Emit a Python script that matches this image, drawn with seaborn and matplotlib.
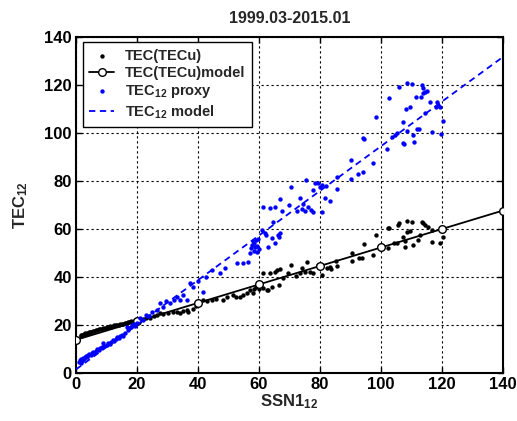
import numpy as np
import pandas as pd
import matplotlib
matplotlib.use("Agg")
import matplotlib.pyplot as plt
import seaborn as sns

# ---- data ----
tec_ssn = [1.5, 1.8, 2.0, 2.2, 2.5, 2.8, 3.0, 3.3, 3.6, 4.0, 4.3, 4.7, 5.0, 5.5, 6.0, 6.5, 7.0, 7.5,
           8.0, 8.5, 9.0, 9.5, 10.0, 10.5, 11.0, 11.5, 12.0, 12.5, 13.0, 13.5, 14.0, 14.5, 15.0, 15.5,
           16.0, 16.5, 17.0, 17.5, 18.0, 19.0, 20.0, 21.0, 22.0, 23.0, 24.3, 25.5, 26.5, 27.5, 28.5,
           30.0, 31.8, 33.0, 34.0, 35.0, 36.4, 36.7, 38.4, 39.5, 41.6, 43.0, 44.5, 46.0, 48.2, 49.5,
           51.5, 52.5, 53.8, 54.8, 56.0, 57.0, 58.0, 58.5, 59.0, 59.3, 60.0, 61.3, 61.3, 62.6, 63.0,
           63.6, 64.3, 65.2, 65.9, 66.5, 66.9, 67.9, 69.5, 70.5, 72.0, 73.4, 74.0, 75.0, 75.7, 76.7,
           77.7, 79.3, 80.6, 82.3, 83.3, 83.6, 85.2, 85.6, 90.5, 90.5, 92.8, 93.8, 94.4, 97.4, 98.4,
           100.3, 102.3, 102.3, 102.6, 104.3, 105.2, 105.6, 105.9, 107.2, 107.9, 107.9, 108.5, 108.5,
           109.5, 110.2, 110.5, 112.1, 112.8, 113.4, 113.8, 114.4, 115.4, 116.7, 116.7, 119.3, 120.3]
tec_val = [15.6, 15.8, 16.0, 15.9, 16.2, 16.3, 16.5, 16.4, 16.7, 16.8, 17.0, 17.1, 17.2, 17.5, 17.6,
           17.9, 18.0, 18.2, 18.4, 18.5, 18.7, 18.8, 19.0, 19.1, 19.4, 19.3, 19.6, 19.8, 19.9, 20.2,
           20.1, 20.4, 20.6, 20.5, 20.9, 21.0, 21.3, 21.1, 21.5, 21.8, 22.0, 22.2, 22.5, 22.8, 22.9,
           23.6, 24.3, 25.0, 24.6, 25.2, 25.4, 25.6, 25.1, 26.0, 26.3, 25.4, 26.8, 28.0, 30.4, 30.1,
           30.4, 30.9, 30.4, 31.7, 32.5, 31.5, 31.7, 32.5, 33.3, 34.6, 33.3, 35.2, 35.8, 36.7, 35.0,
           35.4, 41.7, 34.6, 34.6, 41.7, 35.8, 42.0, 42.9, 36.7, 43.3, 39.6, 41.7, 45.0, 40.5, 41.5,
           43.75, 42.0, 46.25, 42.0, 41.7, 45.0, 40.8, 43.75, 44.2, 43.3, 46.7, 44.6, 50.0, 46.7, 47.9,
           47.9, 53.75, 49.2, 57.5, 52.5, 52.0, 60.4, 60.4, 54.2, 54.2, 61.7, 62.5, 56.7, 55.0, 52.5,
           63.3, 58.75, 59.2, 62.9, 53.3, 55.4, 57.5, 62.9, 62.5, 61.7, 60.8, 59.6, 54.6, 54.2, 56.7]

proxy_ssn = [1.0, 1.3, 1.5, 1.8, 2.0, 2.3, 2.6, 3.0, 3.3, 3.6, 4.0, 4.4, 4.8, 5.2, 5.6, 6.0, 6.5, 7.0,
             7.5, 8.0, 8.5, 8.9, 9.3, 10.0, 10.5, 11.0, 11.5, 12.0, 12.5, 13.0, 13.5, 14.0, 14.5, 15.0,
             15.5, 16.0, 16.7, 17.0, 17.5, 18.0, 18.5, 19.0, 19.5, 20.0, 21.0, 22.0, 23.0, 24.0, 25.0,
             26.6, 27.5, 28.5, 29.5, 30.8, 32.0, 33.0, 34.0, 35.0, 36.4, 37.4, 38.5, 40.0, 41.6, 42.5,
             44.6, 47.2, 48.9, 52.8, 54.8, 56.4, 57.0, 57.5, 57.8, 58.0, 58.3, 58.5, 58.8, 59.0, 59.2,
             59.5, 59.8, 60.0, 61.0, 61.3, 62.0, 62.3, 63.0, 63.6, 64.3, 64.6, 65.2, 65.2, 66.2, 66.5,
             66.9, 66.9, 67.5, 69.8, 70.5, 72.5, 73.4, 74.0, 74.5, 75.0, 75.4, 76.0, 77.0, 77.7, 77.7,
             78.4, 79.3, 80.0, 80.6, 80.6, 81.6, 82.0, 83.3, 85.6, 85.6, 90.2, 90.2, 92.5, 94.1, 94.1,
             94.4, 97.4, 98.4, 102.0, 102.6, 103.6, 104.6, 105.2, 105.9, 107.2, 107.2, 107.5, 108.2,
             108.5, 108.5, 109.5, 110.2, 110.5, 110.8, 111.5, 111.8, 112.5, 113.0, 113.4, 113.8, 113.8,
             114.4, 114.4, 115.0, 116.0, 116.7, 118.0, 118.4, 118.7, 119.3, 119.7, 120.3]
proxy_val = [4.5, 5.5, 4.2, 6.0, 5.2, 6.3, 5.8, 6.8, 7.2, 6.6, 7.6, 8.0, 7.4, 8.4, 8.9, 8.3, 9.2, 9.8,
             9.4, 10.5, 11.0, 12.5, 11.2, 11.8, 12.6, 12.2, 13.0, 13.6, 13.2, 14.2, 14.8, 14.4, 15.5,
             16.0, 15.6, 16.8, 19.2, 17.8, 18.6, 19.0, 19.8, 20.3, 19.6, 21.0, 22.9, 22.2, 24.0, 23.8,
             25.5, 26.25, 29.0, 27.5, 29.8, 29.2, 30.5, 31.7, 30.4, 32.5, 30.4, 37.5, 36.0, 38.5, 33.75,
             40.0, 42.9, 41.7, 43.75, 45.8, 45.8, 46.25, 50.0, 52.0, 53.5, 55.0, 51.0, 54.0, 52.5, 55.4,
             50.5, 53.0, 56.0, 51.5, 59.6, 69.2, 58.3, 57.5, 52.5, 68.7, 56.25, 62.9, 54.2, 69.2, 57.5,
             56.7, 58.3, 72.5, 67.5, 70.0, 77.5, 67.5, 72.9, 68.5, 70.5, 67.5, 80.4, 69.0, 68.0, 67.0,
             76.25, 79.2, 79.2, 77.5, 78.3, 67.0, 72.9, 77.8, 71.7, 76.7, 81.7, 80.8, 88.75, 82.9, 83.75,
             97.9, 97.5, 87.5, 106.7, 93.3, 114.6, 98.3, 99.2, 100.0, 119.2, 95.8, 104.6, 95.4, 110.0,
             120.8, 100.8, 110.8, 120.4, 99.2, 96.25, 115.0, 101.7, 101.7, 115.0, 120.0, 118.75, 116.7,
             117.0, 108.3, 117.5, 112.9, 100.4, 110.8, 112.9, 111.7, 110.8, 99.6, 105.0]

model_ssn = [0, 20, 40, 60, 80, 100, 120, 140]
tec_model = [13.8, 21.5, 29.2, 36.9, 44.6, 52.3, 60.0, 67.7]
proxy_model = [1.5, 20.1, 38.7, 57.3, 75.9, 94.5, 113.1, 131.7]

ticks = [0, 20, 40, 60, 80, 100, 120, 140]

# ---- style ----
sns.set_theme(style="white")
plt.rcParams['font.family'] = ['Liberation Sans', 'DejaVu Sans']
plt.rcParams['font.weight'] = 'bold'
plt.rcParams['mathtext.fontset'] = 'custom'
plt.rcParams['mathtext.rm'] = 'Liberation Sans:bold'
plt.rcParams['mathtext.it'] = 'Liberation Sans:bold'
plt.rcParams['mathtext.bf'] = 'Liberation Sans:bold'
plt.rcParams['mathtext.default'] = 'bf'

fig = plt.figure(figsize=(5.17, 4.21), dpi=100)
fig.patch.set_facecolor('white')
ax = fig.add_axes([76/517, 1 - 373/421, (503-76)/517, (373-37)/421])
ax.set_facecolor('white')

df_tec = pd.DataFrame({'ssn': tec_ssn, 'tec': tec_val})
df_proxy = pd.DataFrame({'ssn': proxy_ssn, 'tec': proxy_val})
df_model = pd.DataFrame({'ssn': model_ssn, 'tec': tec_model, 'proxy': proxy_model})

sns.scatterplot(data=df_tec, x='ssn', y='tec', ax=ax, color='black', s=10, linewidth=0,
                marker='o', label='TEC(TECu)', zorder=3)
sns.lineplot(data=df_model, x='ssn', y='tec', ax=ax, color='black', lw=1.3, marker='o',
             markersize=5.5, markerfacecolor='white', markeredgecolor='black', markeredgewidth=1.0,
             label='TEC(TECu)model', zorder=4)
sns.scatterplot(data=df_proxy, x='ssn', y='tec', ax=ax, color='blue', s=10, linewidth=0,
                marker='o', label='TEC$_{12}$ proxy', zorder=5)
sns.lineplot(data=df_model, x='ssn', y='proxy', ax=ax, color='blue', lw=1.3,
             linestyle=(0, (3.5, 2.5)), label='TEC$_{12}$ model', zorder=6)

ax.set_xlim(0, 140)
ax.set_ylim(0, 140)
ax.set_xticks(ticks)
ax.set_yticks(ticks)
ax.set_xticklabels([str(t) for t in ticks], fontsize=12, fontweight='bold')
ax.set_yticklabels([str(t) for t in ticks], fontsize=12, fontweight='bold')
ax.tick_params(direction='in', length=4, width=1, top=True, right=True, bottom=True, left=True,
               colors='black', pad=3)
ax.grid(True, color='black', linestyle=(0, (2, 2.5)), linewidth=0.8)
for sp in ax.spines.values():
    sp.set_color('black')
    sp.set_linewidth(1.5)
    sp.set_visible(True)

ax.set_title('1999.03-2015.01', fontsize=11.5, fontweight='bold', pad=10)
ax.set_xlabel('SSN1$_{12}$', fontsize=12, fontweight='bold', labelpad=0)
ax.set_ylabel('TEC$_{12}$', fontsize=12, fontweight='bold', labelpad=10)

leg = ax.legend(loc='upper left', bbox_to_anchor=(0.016, 0.985), fontsize=10.5, frameon=True,
                fancybox=False, edgecolor='black', framealpha=1, borderpad=0.45, labelspacing=0.22,
                handlelength=1.7, handletextpad=0.75, borderaxespad=0, markerscale=1.0)
leg.get_frame().set_linewidth(1.0)
for t in leg.get_texts():
    t.set_fontweight('bold')

fig.savefig('out.png', dpi=100, facecolor='white')
